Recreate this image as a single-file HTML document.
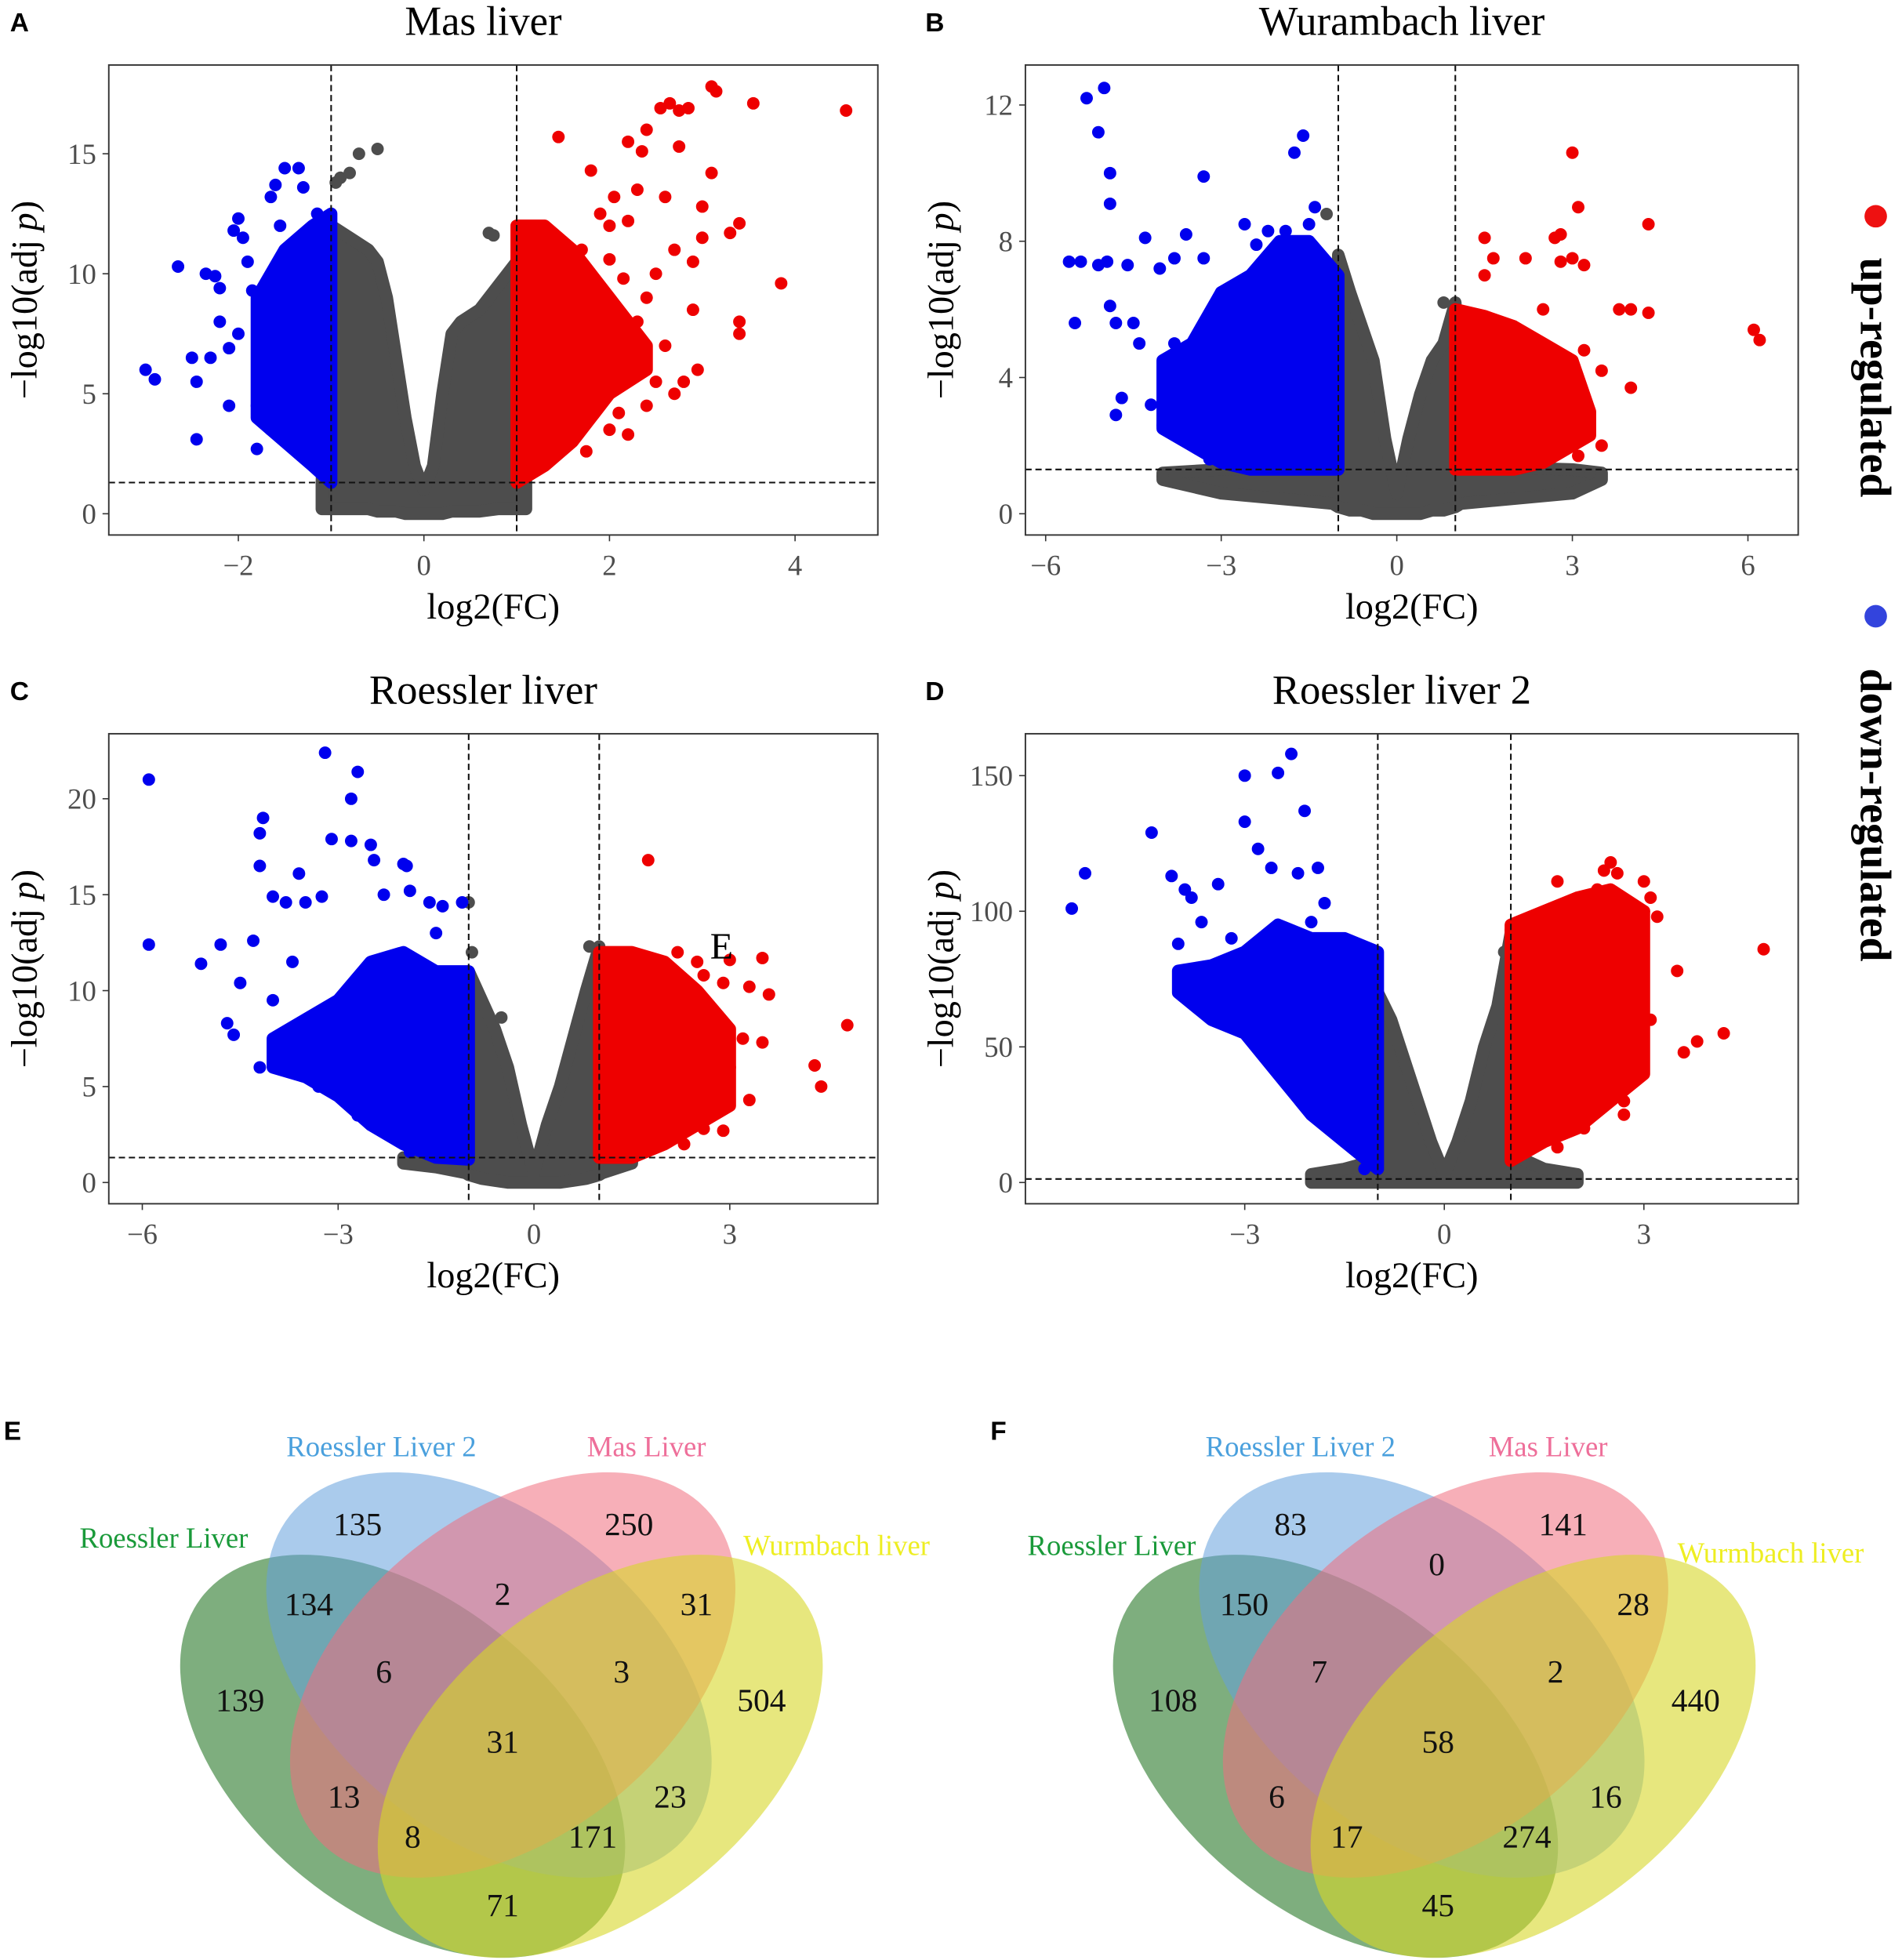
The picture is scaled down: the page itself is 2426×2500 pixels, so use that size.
<!DOCTYPE html>
<html><head><meta charset="utf-8">
<style>
html,body{margin:0;padding:0;background:#fff;overflow:hidden;}
svg{display:block;}
text{font-family:"Liberation Serif",serif;}
</style></head>
<body>
<svg id="fig" xmlns="http://www.w3.org/2000/svg" width="2426" height="2500" viewBox="0 0 1521 1568" preserveAspectRatio="none">
<rect x="0" y="0" width="1521" height="1568" fill="#fff"/>
<g id="plots"></g>
<!-- legend -->
<g>
<circle cx="1500" cy="173" r="9" fill="#ee1111"/>
<text transform="translate(1488,302) rotate(90)" text-anchor="middle" font-size="35" font-weight="bold">up-regulated</text>
<circle cx="1500" cy="493" r="9" fill="#3344dd"/>
<text transform="translate(1488,652) rotate(90)" text-anchor="middle" font-size="35" font-weight="bold">down-regulated</text>
</g>
<!-- Venn E -->
<g>
<text x="3" y="1152" font-size="21" font-weight="bold" style="font-family:'Liberation Sans',sans-serif">E</text>
<ellipse cx="322" cy="1405" rx="205" ry="125" transform="rotate(38.8 322 1405)" fill="rgba(40,120,40,0.6)"/>
<ellipse cx="391" cy="1340" rx="204" ry="128" transform="rotate(38.8 391 1340)" fill="rgba(100,160,220,0.55)"/>
<ellipse cx="410" cy="1340" rx="204" ry="128" transform="rotate(-38.8 410 1340)" fill="rgba(240,110,125,0.55)"/>
<ellipse cx="480" cy="1405" rx="205" ry="125" transform="rotate(-38.8 480 1405)" fill="rgba(215,215,40,0.6)"/>
<g font-size="26" fill="#111" text-anchor="middle">
<text x="286" y="1228">135</text><text x="503" y="1228">250</text><text x="402" y="1284">2</text>
<text x="247" y="1292">134</text><text x="557" y="1292">31</text><text x="307" y="1346">6</text><text x="497" y="1346">3</text>
<text x="192" y="1369">139</text><text x="609" y="1369">504</text><text x="402" y="1402">31</text>
<text x="275" y="1446">13</text><text x="536" y="1446">23</text><text x="330" y="1478">8</text><text x="474" y="1478">171</text>
<text x="402" y="1533">71</text>
</g>
<text x="305" y="1165" font-size="23" fill="#4aa0dd" text-anchor="middle">Roessler Liver 2</text>
<text x="517" y="1165" font-size="23" fill="#ee6f9a" text-anchor="middle">Mas Liver</text>
<text x="131" y="1238" font-size="23" fill="#1a9a3a" text-anchor="middle">Roessler Liver</text>
<text x="669" y="1244" font-size="23" fill="#eeee22" text-anchor="middle">Wurmbach liver</text>
</g>
<!-- Venn F -->
<g>
<text x="792" y="1152" font-size="21" font-weight="bold" style="font-family:'Liberation Sans',sans-serif">F</text>
<g transform="translate(746,0)">
<ellipse cx="322" cy="1405" rx="205" ry="125" transform="rotate(38.8 322 1405)" fill="rgba(40,120,40,0.6)"/>
<ellipse cx="391" cy="1340" rx="204" ry="128" transform="rotate(38.8 391 1340)" fill="rgba(100,160,220,0.55)"/>
<ellipse cx="410" cy="1340" rx="204" ry="128" transform="rotate(-38.8 410 1340)" fill="rgba(240,110,125,0.55)"/>
<ellipse cx="480" cy="1405" rx="205" ry="125" transform="rotate(-38.8 480 1405)" fill="rgba(215,215,40,0.6)"/>
</g>
<g font-size="26" fill="#111" text-anchor="middle">
<text x="1032" y="1228">83</text><text x="1250" y="1228">141</text><text x="1149" y="1260">0</text>
<text x="995" y="1292">150</text><text x="1306" y="1292">28</text><text x="1055" y="1346">7</text><text x="1244" y="1346">2</text>
<text x="938" y="1369">108</text><text x="1356" y="1369">440</text><text x="1150" y="1402">58</text>
<text x="1021" y="1446">6</text><text x="1284" y="1446">16</text><text x="1077" y="1478">17</text><text x="1221" y="1478">274</text>
<text x="1150" y="1533">45</text>
</g>
<text x="1040" y="1165" font-size="23" fill="#4aa0dd" text-anchor="middle">Roessler Liver 2</text>
<text x="1238" y="1165" font-size="23" fill="#ee6f9a" text-anchor="middle">Mas Liver</text>
<text x="889" y="1244" font-size="23" fill="#1a9a3a" text-anchor="middle">Roessler Liver</text>
<text x="1416" y="1250" font-size="23" fill="#eeee22" text-anchor="middle">Wurmbach liver</text>
</g>
</svg>
<script>
// ===== Panel A data (Mas liver) =====
const aGrayX=[-1.1,-1,-0.8,-0.6,-0.5,-0.4,-0.3,-0.2,-0.1,0,0.1,0.2,0.3,0.4,0.6,0.8,1,1.1];
const aGrayHi=[1.3,12,11.5,11,10.5,9,6.5,4,2,1,2,5,7.5,8,8.5,9.5,10.5,1.3];
const aGrayLo=[0.2,0.2,0.2,0.2,0.1,0.1,0.1,0,0,0,0,0,0.1,0.1,0.1,0.2,0.2,0.2];
const aGrayPts=[[-0.9,14],[-0.8,14.2],[-0.7,15],[-0.5,15.2],[0.7,11.7],[0.75,11.6],[-0.95,13.8]];
const aUpX=[1,1.3,1.6,2.0,2.4];
const aUpHi=[12,12,11,9,7];
const aUpLo=[1.3,2,3,5,6];
const aUpPts=[[1.45,15.7],[2.2,15.5],[2.4,16],[2.55,16.9],[2.65,17.1],[2.75,16.8],[2.85,16.9],[3.1,17.8],[3.15,17.6],[3.55,17.1],[4.55,16.8],[2.35,15.1],[2.75,15.3],[2.05,13.2],[2.3,13.5],[3.1,14.2],[3.4,12.1],[3.85,9.6],[3.4,8],[3.4,7.5],[2.9,8.5],[2.5,10],[2.7,11],[3.0,11.5],[2.9,10.5],[3.3,11.7],[2.2,12.2],[1.9,12.5],[1.7,11],[2.0,10.6],[2.4,9],[2.6,7],[2.8,5.5],[2.95,6.0],[2.4,4.5],[2.0,3.5],[2.1,4.2],[1.75,2.6],[2.2,3.3],[2.7,5],[1.5,9.5],[1.3,10.8],[2.5,5.5],[2.25,6.8],[2.3,8],[2.15,9.8],[3.0,12.8],[2.6,13.2],[1.8,14.3],[2.0,12]];
const aDownX=[-1,-1.2,-1.5,-1.8];
const aDownHi=[12.5,12,11,9];
const aDownLo=[1.3,2,3,4];
const aDownPts=[[-3,6],[-2.9,5.6],[-2.65,10.3],[-2.5,6.5],[-2.45,5.5],[-2.45,3.1],[-2.35,10],[-2.25,9.9],[-2.2,8],[-2.1,6.9],[-2.05,11.8],[-2.0,12.3],[-1.95,11.5],[-1.85,9.3],[-1.8,4.5],[-1.8,2.7],[-1.7,5.5],[-1.65,3.5],[-1.65,13.2],[-1.6,13.7],[-1.55,12],[-1.5,14.4],[-1.35,14.4],[-1.4,8],[-1.3,13.6],[-1.2,11.5],[-1.15,12.5],[-2.2,9.4],[-2.0,7.5],[-1.9,10.5],[-2.1,4.5],[-1.75,7],[-2.3,6.5]];
const aXTicks=[-2,0,2,4];
const aYTicks=[0,5,10,15];

// ===== Panel B data (Wurambach liver) =====
const bGrayX=[-4,-3,-1.1,-1,-0.8,-0.6,-0.4,-0.2,0,0.2,0.4,0.6,0.8,1,1.1,3,3.5];
const bGrayHi=[1.2,1.3,1.4,7.6,6.5,5.5,4.5,2.2,0.6,2.2,3.5,4.5,5,6.2,1.4,1.3,1.2];
const bGrayLo=[1.0,0.6,0.3,0.2,0.1,0.1,0,0,0,0,0,0.1,0.1,0.2,0.3,0.6,1.0];
const bGrayPts=[[-1.2,8.8],[-1.0,7.5],[0.8,6.2],[-4.0,1.1],[3.3,1.2]];
const bUpX=[1,1.5,2,2.5,3,3.3];
const bUpHi=[6,5.8,5.5,5,4.5,3];
const bUpLo=[1.3,1.3,1.3,1.5,2,2.3];
const bUpPts=[[1.5,8.1],[1.5,7],[1.65,7.5],[2.2,7.5],[2.8,7.4],[2.7,8.1],[2.8,8.2],[3.0,10.6],[3.1,9],[3.0,7.5],[3.2,7.3],[3.8,6],[4.0,6],[4.3,8.5],[4.3,5.9],[4.0,3.7],[3.2,4.8],[3.5,4.2],[3.1,1.7],[6.1,5.4],[6.2,5.1],[2.5,6],[2.5,3.5],[3.5,2],[3.0,3]];
const bDownX=[-1,-1.5,-2,-2.5,-3,-3.5,-4];
const bDownHi=[7,8,8,7,6.5,5,4.5];
const bDownLo=[1.3,1.3,1.3,1.3,1.5,2,2.5];
const bDownPts=[[-5.6,7.4],[-5.4,7.4],[-5.5,5.6],[-5.3,12.2],[-5.1,11.2],[-5,12.5],[-4.9,10],[-4.9,9.1],[-4.95,7.4],[-5.1,7.3],[-4.8,5.6],[-4.6,7.3],[-4.9,6.1],[-4.8,2.9],[-4.7,3.4],[-4.5,5.6],[-4.4,5],[-4.3,8.1],[-4.05,7.2],[-3.8,7.5],[-3.6,8.2],[-3.3,9.9],[-3.3,7.5],[-2.6,8.5],[-2.4,7.9],[-2.2,8.3],[-1.9,8.3],[-1.6,11.1],[-1.75,10.6],[-1.4,9],[-1.5,8.5],[-3.0,6.5],[-3.8,5],[-4.2,3.2],[-3.2,1.6],[-4.0,2.6]];
const bXTicks=[-6,-3,0,3,6];
const bYTicks=[0,4,8,12];

// ===== Panel C data (Roessler liver) =====
const cGrayX=[-2,-1.5,-1.05,-1,-0.8,-0.6,-0.4,-0.2,0,0.2,0.4,0.6,0.8,1,1.05,1.5];
const cGrayHi=[1.3,1.3,1.4,11,9.5,8,6,3,0.5,3,5,7.5,10,12.3,1.4,1.3];
const cGrayLo=[1.0,0.8,0.5,0.4,0.2,0.1,0,0,0,0,0,0.1,0.2,0.4,0.5,1.0];
const cGrayPts=[[-1.0,14.6],[-0.95,12],[-0.5,8.6],[0.85,12.3],[-1.3,1.1],[1.3,1.2]];
const cUpX=[1,1.5,2,2.5,3];
const cUpHi=[12,12,11.5,10,8];
const cUpLo=[1.3,1.3,2,3,4];
const cUpPts=[[1.75,16.8],[2.5,11.5],[2.6,10.8],[2.9,10.4],[3.0,11.6],[3.2,7.5],[3.3,10.2],[3.5,11.7],[3.6,9.8],[3.0,6],[3.5,7.3],[3.3,4.3],[2.5,3.5],[2.6,2.8],[2.9,2.7],[2.3,2],[4.3,6.1],[4.4,5],[4.8,8.2],[2.4,7],[2.8,7.5],[2.2,12]];
const cDownX=[-1,-1.5,-2,-2.5,-3,-3.5,-4];
const cDownHi=[11,11,12,11.5,9.5,8.5,7.5];
const cDownLo=[1.2,1.3,2,3,4.5,5.5,6];
const cDownPts=[[-5.9,21],[-5.9,12.4],[-5.1,11.4],[-4.8,12.4],[-4.7,8.3],[-4.6,7.7],[-4.5,10.4],[-4.3,12.6],[-4.2,16.5],[-4.2,18.2],[-4.15,19],[-4.0,14.9],[-3.8,14.6],[-3.7,11.5],[-3.5,14.6],[-3.25,14.9],[-3.2,22.4],[-3.1,17.9],[-2.8,17.8],[-2.8,20],[-2.7,21.4],[-2.5,17.6],[-2.45,16.8],[-2.0,16.6],[-1.95,16.5],[-1.9,15.2],[-1.6,14.6],[-1.4,14.4],[-1.5,13],[-1.1,14.6],[-3.6,16.1],[-2.3,15],[-4.0,9.5],[-3.9,6],[-4.2,6],[-3.3,5],[-2.7,3.5],[-2.2,2.5],[-1.9,1.6],[-3.5,7.5]];
const cXTicks=[-6,-3,0,3];
const cYTicks=[0,5,10,15,20];

// ===== Panel D data (Roessler liver 2) =====
const dGrayX=[-2,-1.5,-1.05,-1,-0.8,-0.6,-0.4,-0.2,0,0.2,0.4,0.6,0.8,1,1.05,1.5,2];
const dGrayHi=[3,5,8,70,60,45,30,15,3,15,30,50,65,92,10,5,3];
const dGrayLo=[0,0,0,0,0,0,0,0,0,0,0,0,0,0,0,0,0];
const dGrayPts=[[1.0,93],[0.9,85],[-1.0,70]];
const dUpX=[1,1.5,2,2.5,3];
const dUpHi=[95,100,105,108,100];
const dUpLo=[8,15,20,30,40];
const dUpPts=[[1.7,111],[2.3,108],[2.4,115],[2.5,118],[2.6,114],[2.7,100],[2.9,95],[3.0,100],[3.0,111],[3.1,105],[3.2,98],[3.1,60],[3.5,78],[3.6,48],[3.8,52],[4.2,55],[4.8,86],[2.7,30],[2.7,25],[2.3,40],[1.7,13],[2.1,20],[2.5,65]];
const dDownX=[-1,-1.5,-2,-2.5,-3,-3.5,-4];
const dDownHi=[85,90,90,95,85,80,78];
const dDownLo=[5,15,25,40,55,60,70];
const dDownPts=[[-5.6,101],[-5.4,114],[-4.4,129],[-4.1,113],[-3.9,108],[-3.8,105],[-3.65,96],[-3.0,150],[-3.0,133],[-2.8,123],[-2.6,116],[-2.5,151],[-2.3,158],[-2.1,137],[-1.9,116],[-2.2,114],[-1.8,103],[-1.5,88],[-2.0,96],[-1.8,25],[-1.5,15],[-1.2,5],[-3.2,90],[-2.7,75],[-3.4,110],[-4.0,88]];
const dXTicks=[-3,0,3];
const dYTicks=[0,50,100,150];

const NS="http://www.w3.org/2000/svg";
const root=document.getElementById('plots');
function mk(tag,attrs,parent){const e=document.createElementNS(NS,tag);for(const k in attrs)e.setAttribute(k,attrs[k]);(parent||root).appendChild(e);return e;}

const panels=[
 {id:'a',letter:'A',title:'Mas liver',box:[87,52,702,428],x0:339,xs:74.2,y0:411,ys:19.2,lx:8,ly:25,
  gx:aGrayX,gh:aGrayHi,gl:aGrayLo,gp:aGrayPts,ux:aUpX,uh:aUpHi,ul:aUpLo,up:aUpPts,dx:aDownX,dh:aDownHi,dl:aDownLo,dp:aDownPts,xt:aXTicks,yt:aYTicks},
 {id:'b',letter:'B',title:'Wurambach liver',box:[820,52,1438,428],x0:1117,xs:46.8,y0:411,ys:27.25,lx:740,ly:25,
  gx:bGrayX,gh:bGrayHi,gl:bGrayLo,gp:bGrayPts,ux:bUpX,uh:bUpHi,ul:bUpLo,up:bUpPts,dx:bDownX,dh:bDownHi,dl:bDownLo,dp:bDownPts,xt:bXTicks,yt:bYTicks},
 {id:'c',letter:'C',title:'Roessler liver',box:[87,587,702,963],x0:427,xs:52.2,y0:946,ys:15.35,lx:8,ly:560,
  gx:cGrayX,gh:cGrayHi,gl:cGrayLo,gp:cGrayPts,ux:cUpX,uh:cUpHi,ul:cUpLo,up:cUpPts,dx:cDownX,dh:cDownHi,dl:cDownLo,dp:cDownPts,xt:cXTicks,yt:cYTicks},
 {id:'d',letter:'D',title:'Roessler liver 2',box:[820,587,1438,963],x0:1155,xs:53.2,y0:946,ys:2.17,lx:740,ly:560,
  gx:dGrayX,gh:dGrayHi,gl:dGrayLo,gp:dGrayPts,ux:dUpX,uh:dUpHi,ul:dUpLo,up:dUpPts,dx:dDownX,dh:dDownHi,dl:dDownLo,dp:dDownPts,xt:dXTicks,yt:dYTicks}
];

panels.forEach(p=>{
  const X=v=>p.x0+v*p.xs, Y=v=>p.y0-v*p.ys;
  const [L,T,R,B]=p.box;
  const g=mk('g',{});
  
  
  const cp='clip-'+p.id;
  const cl=mk('clipPath',{id:cp},g);mk('rect',{x:L,y:T,width:R-L,height:B-T},cl);
  const pg=mk('g',{'clip-path':'url(#'+cp+')'},g);
  function area(xs,hi,lo,col,name){
    let d='M'+xs.map((x,i)=>X(x)+','+Y(hi[i])).join('L');
    for(let i=xs.length-1;i>=0;i--)d+='L'+X(xs[i])+','+Y(lo[i]);
    const e=mk('path',{d:d+'Z',fill:col,stroke:col,'stroke-width':10,'stroke-linejoin':'round'},pg);
    
    
  }
  function pts(arr,col,name){
    arr.forEach(q=>{const e=mk('circle',{cx:X(q[0]),cy:Y(q[1]),r:5,fill:col},pg);
      
      });
  }
  area(p.gx,p.gh,p.gl,'#4d4d4d','ns-density');
  pts(p.gp,'#4d4d4d','ns-point');
  area(p.dx,p.dh,p.dl,'#0000ee','down-density');
  pts(p.dp,'#0000ee','down-point');
  area(p.ux,p.uh,p.ul,'#ee0000','up-density');
  pts(p.up,'#ee0000','up-point');
  const dash={stroke:'#111','stroke-width':1.3,'stroke-dasharray':'5,3'};
  [-1,1].forEach(v=>{const e=mk('line',Object.assign({x1:X(v),x2:X(v),y1:T,y2:B},dash),g);
    
    });
  const h=mk('line',Object.assign({x1:L,x2:R,y1:Y(1.3),y2:Y(1.3)},dash),g);
  
  
  const bx=mk('rect',{x:L,y:T,width:R-L,height:B-T,fill:'none',stroke:'#333','stroke-width':1.2},g);
  
  
  p.xt.forEach(v=>{mk('line',{x1:X(v),x2:X(v),y1:B,y2:B+5,stroke:'#333'},g);
    const t=mk('text',{x:X(v),y:B+32,'text-anchor':'middle','font-size':23,fill:'#4d4d4d'},g);
    t.textContent=(v<0?'\u2212'+(-v):v);
    
    });
  p.yt.forEach(v=>{mk('line',{x1:L-5,x2:L,y1:Y(v),y2:Y(v),stroke:'#333'},g);
    const t=mk('text',{x:L-10,y:Y(v)+8,'text-anchor':'end','font-size':23,fill:'#4d4d4d'},g);
    t.textContent=v;
    
    });
  const xt=mk('text',{x:(L+R)/2,y:B+67,'text-anchor':'middle','font-size':29},g);
  xt.textContent='log2(FC)';
  
  
  const yt=mk('text',{transform:'translate('+(L-58)+','+((T+B)/2)+') rotate(-90)','text-anchor':'middle','font-size':29},g);
  yt.innerHTML='\u2212log10(adj <tspan font-style="italic">p</tspan>)';
  
  
  const tt=mk('text',{x:(L+R)/2-8,y:T-24,'text-anchor':'middle','font-size':33},g);
  tt.textContent=p.title;
  
  
  const lt=mk('text',{x:p.lx,y:p.ly,'font-size':21,'font-weight':'bold',style:"font-family:'Liberation Sans',sans-serif"},g);
  lt.textContent=p.letter;
  
  
  if(p.id==='c'){const e=mk('text',{x:577,y:767,'text-anchor':'middle','font-size':30},g);e.textContent='E';
    
    }
});
</script>
</body></html>
